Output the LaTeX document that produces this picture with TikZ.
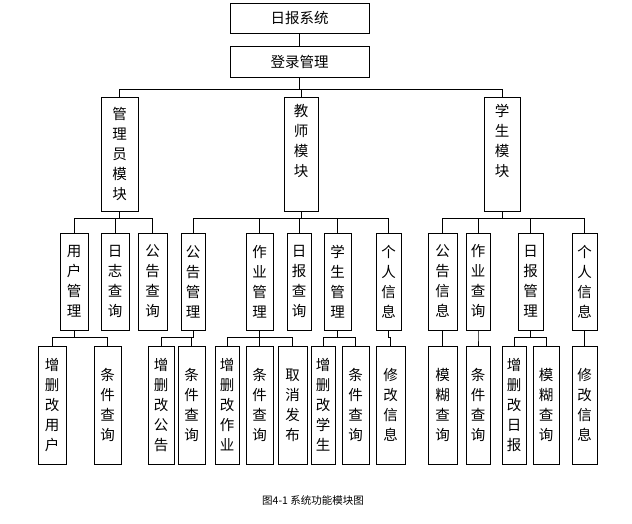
\documentclass[tikz,border=0pt]{standalone}
\usepackage{fontspec}
\newfontfamily\cjk{Noto Sans CJK SC}
\usetikzlibrary{positioning}

\begin{document}
\begin{tikzpicture}[x=1pt,y=-1pt,font=\cjk\fontsize{14.5}{20}\selectfont]

	\tikzstyle{box}=[rectangle,draw=black,line width=0.6pt,inner sep=0pt,align=center]
	\tikzstyle{link}=[draw=black,line width=0.6pt]
	\useasboundingbox (0,0) rectangle (632,524);

	% top
	\node [box,minimum width=139,minimum height=30] (sys) at (299.5,18) {日报系统};
	\node [box,minimum width=139,minimum height=31] (login) at (299.5,61.5) {登录管理};

	% modules
	\node [box,minimum width=37,minimum height=114] (adm) at (119.5,154) {管\\理\\员\\模\\块};
	\node [box,minimum width=34,minimum height=114] (tea) at (301,154) {教\\师\\模\\块\\[8pt]};
	\node [box,minimum width=36,minimum height=114] (stu) at (502,154) {学\\生\\模\\块\\[8pt]};

	% level 3
	\node [box,minimum width=28,minimum height=97] (usr) at (74,281.5) {用\\户\\管\\理};
	\node [box,minimum width=28,minimum height=97] (logq) at (115,281.5) {日\\志\\查\\询};
	\node [box,minimum width=29,minimum height=97] (ntcq) at (152.5,281.5) {公\\告\\查\\询};
	\node [box,minimum width=24,minimum height=97] (ntcm) at (193,281.5) {公\\告\\管\\理};
	\node [box,minimum width=27,minimum height=97] (hwm) at (259.5,281.5) {作\\业\\管\\理};
	\node [box,minimum width=24,minimum height=97] (rptq) at (299,281.5) {日\\报\\查\\询};
	\node [box,minimum width=27,minimum height=97] (stum) at (337.5,281.5) {学\\生\\管\\理};
	\node [box,minimum width=25,minimum height=97] (tinfo) at (388.5,281.5) {个\\人\\信\\息};
	\node [box,minimum width=29,minimum height=97] (ntci) at (442.5,281.5) {公\\告\\信\\息};
	\node [box,minimum width=24,minimum height=97] (hwq) at (478,281.5) {作\\业\\查\\询};
	\node [box,minimum width=25,minimum height=97] (rptm) at (530.5,281.5) {日\\报\\管\\理};
	\node [box,minimum width=25,minimum height=97] (sinfo) at (584.5,281.5) {个\\人\\信\\息};

	% level 4
	\node [box,minimum width=28,minimum height=118] (usr1) at (52,405) {增\\删\\改\\用\\户};
	\node [box,minimum width=27,minimum height=118] (usr2) at (107.5,405) {条\\件\\查\\询};
	\node [box,minimum width=26,minimum height=118] (ntc1) at (161,405) {增\\删\\改\\公\\告};
	\node [box,minimum width=27,minimum height=118] (ntc2) at (191.5,405) {条\\件\\查\\询};
	\node [box,minimum width=24,minimum height=118] (hw1) at (227,405) {增\\删\\改\\作\\业};
	\node [box,minimum width=27,minimum height=118] (hw2) at (259.5,405) {条\\件\\查\\询};
	\node [box,minimum width=29,minimum height=118] (hw3) at (292.5,405) {取\\消\\发\\布};
	\node [box,minimum width=24,minimum height=118] (st1) at (323,405) {增\\删\\改\\学\\生};
	\node [box,minimum width=27,minimum height=118] (st2) at (355.5,405) {条\\件\\查\\询};
	\node [box,minimum width=29,minimum height=118] (ti1) at (390.5,405) {修\\改\\信\\息};
	\node [box,minimum width=29,minimum height=118] (ni1) at (442.5,405) {模\\糊\\查\\询};
	\node [box,minimum width=24,minimum height=118] (hq1) at (478,405) {条\\件\\查\\询};
	\node [box,minimum width=24,minimum height=118] (rp1) at (514,405) {增\\删\\改\\日\\报};
	\node [box,minimum width=26,minimum height=118] (rp2) at (546,405) {模\\糊\\查\\询};
	\node [box,minimum width=25,minimum height=118] (si1) at (584.5,405) {修\\改\\信\\息};

	% connectors
	\coordinate (b2) at (0,89);
	\coordinate (b3) at (0,218);
	\coordinate (b4) at (0,337);
	\draw [link] (sys) -- (login);
	\foreach \c in {adm,tea,stu}
		\draw [link] (login.south) |- (\c.north |- b2) -- (\c.north);
	\foreach \p/\c in {adm/usr,adm/logq,adm/ntcq,tea/ntcm,tea/hwm,tea/rptq,tea/stum,tea/tinfo,stu/ntci,stu/hwq,stu/rptm,stu/sinfo}
		\draw [link] (\p.south) |- (\c.north |- b3) -- (\c.north);
	\foreach \p/\c in {usr/usr1,usr/usr2,ntcm/ntc1,ntcm/ntc2,hwm/hw1,hwm/hw2,hwm/hw3,stum/st1,stum/st2,tinfo/ti1,ntci/ni1,hwq/hq1,rptm/rp1,rptm/rp2,sinfo/si1}
		\draw [link] (\p.south) |- (\c.north |- b4) -- (\c.north);

	\node [font=\cjk\fontsize{10.5}{12}\selectfont] (cap) at (313,500) {图4-1 系统功能模块图};
\end{tikzpicture}
\end{document}
